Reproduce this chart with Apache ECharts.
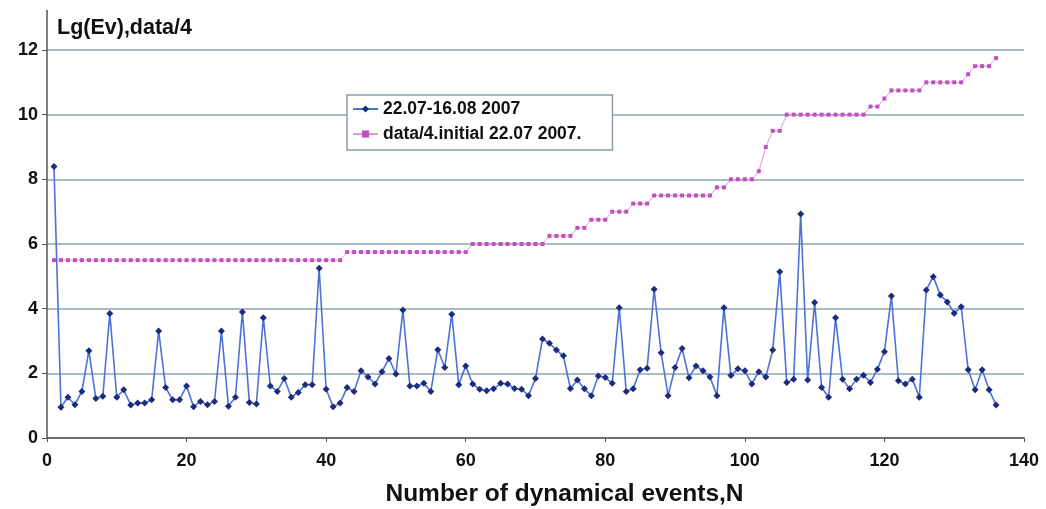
<!DOCTYPE html>
<html>
<head>
<meta charset="utf-8">
<script src="https://cdn.jsdelivr.net/npm/echarts@6/dist/echarts.min.js"></script>
<style>
  html, body { margin: 0; padding: 0; background: #fff; }
  #chart { width: 1046px; height: 509px; }
</style>
</head>
<body>
<div id="chart"></div>
<script>
// Event numbers start at 1; series are listed in event order.
const firstEvent = 1;

const seriesNames = ['22.07-16.08 2007', 'data/4.initial 22.07 2007.'];

// Lg(Ev) for each dynamical event, 22.07-16.08 2007
const lgEv = [
  8.4, 0.95, 1.26, 1.03, 1.44, 2.7, 1.22, 1.29, 3.85, 1.26,
  1.49, 1.02, 1.08, 1.08, 1.18, 3.31, 1.56, 1.18, 1.18, 1.61,
  0.97, 1.13, 1.03, 1.13, 3.31, 0.98, 1.26, 3.9, 1.1, 1.05,
  3.72, 1.61, 1.44, 1.84, 1.26, 1.41, 1.65, 1.65, 5.25, 1.51,
  0.97, 1.08, 1.56, 1.44, 2.08, 1.89, 1.67, 2.05, 2.46, 1.98,
  3.96, 1.61, 1.61, 1.69, 1.44, 2.73, 2.18, 3.83, 1.65, 2.23,
  1.67, 1.51, 1.46, 1.52, 1.69, 1.67, 1.53, 1.51, 1.31, 1.84,
  3.06, 2.93, 2.72, 2.54, 1.53, 1.79, 1.52, 1.31, 1.92, 1.87,
  1.69, 4.03, 1.44, 1.52, 2.11, 2.16, 4.6, 2.64, 1.31, 2.18,
  2.77, 1.86, 2.23, 2.08, 1.89, 1.31, 4.03, 1.93, 2.14, 2.08,
  1.67, 2.05, 1.89, 2.72, 5.14, 1.72, 1.82, 6.93, 1.79, 4.19,
  1.56, 1.26, 3.72, 1.82, 1.52, 1.82, 1.94, 1.72, 2.13, 2.67,
  4.39, 1.77, 1.67, 1.82, 1.26, 4.58, 4.99, 4.42, 4.21, 3.86,
  4.06, 2.11, 1.49, 2.11, 1.49, 1.02
];

// Initial date value divided by 4 for each event
const dataQuarter = [
  5.5, 5.5, 5.5, 5.5, 5.5, 5.5, 5.5, 5.5, 5.5, 5.5,
  5.5, 5.5, 5.5, 5.5, 5.5, 5.5, 5.5, 5.5, 5.5, 5.5,
  5.5, 5.5, 5.5, 5.5, 5.5, 5.5, 5.5, 5.5, 5.5, 5.5,
  5.5, 5.5, 5.5, 5.5, 5.5, 5.5, 5.5, 5.5, 5.5, 5.5,
  5.5, 5.5, 5.75, 5.75, 5.75, 5.75, 5.75, 5.75, 5.75, 5.75,
  5.75, 5.75, 5.75, 5.75, 5.75, 5.75, 5.75, 5.75, 5.75, 5.75,
  6.0, 6.0, 6.0, 6.0, 6.0, 6.0, 6.0, 6.0, 6.0, 6.0,
  6.0, 6.25, 6.25, 6.25, 6.25, 6.5, 6.5, 6.75, 6.75, 6.75,
  7.0, 7.0, 7.0, 7.25, 7.25, 7.25, 7.5, 7.5, 7.5, 7.5,
  7.5, 7.5, 7.5, 7.5, 7.5, 7.75, 7.75, 8.0, 8.0, 8.0,
  8.0, 8.25, 9.0, 9.5, 9.5, 10.0, 10.0, 10.0, 10.0, 10.0,
  10.0, 10.0, 10.0, 10.0, 10.0, 10.0, 10.0, 10.25, 10.25, 10.5,
  10.75, 10.75, 10.75, 10.75, 10.75, 11.0, 11.0, 11.0, 11.0, 11.0,
  11.0, 11.25, 11.5, 11.5, 11.5, 11.75
];

const xTicks = { min: 0, max: 140, interval: 20 };
const yTicks = { min: 0, max: 12, interval: 2 };

const toPairs = vals => vals.map((v, i) => [firstEvent + i, v]);

const FONT = '"Liberation Sans", Arial, sans-serif';
const chart = echarts.init(document.getElementById('chart'), null, { renderer: 'canvas' });

chart.setOption({
  animation: false,
  backgroundColor: '#ffffff',
  grid: { left: 47, right: 22, top: 50, bottom: 71, containLabel: false, outerBoundsMode: 'none' },
  legend: {
    orient: 'vertical',
    left: 347,
    top: 95,
    itemWidth: 25,
    itemHeight: 9,
    itemGap: 7,
    padding: [5, 31, 7, 5],
    backgroundColor: '#ffffff',
    borderColor: '#8c9ca4',
    borderWidth: 1.5,
    borderRadius: 0,
    textStyle: { fontFamily: FONT, fontWeight: 'bold', fontSize: 17.5, color: '#111' },
    data: seriesNames
  },
  xAxis: {
    type: 'value',
    min: xTicks.min,
    max: xTicks.max,
    interval: xTicks.interval,
    name: 'Number of dynamical events,N',
    nameLocation: 'middle',
    nameGap: 44,
    nameTextStyle: {
      fontFamily: FONT, fontWeight: 'bold', fontSize: 24.5, color: '#111',
      padding: [0, 0, 0, 58]
    },
    axisLine: { show: true, lineStyle: { color: '#555', width: 1.5 } },
    axisTick: { show: true, length: 4, lineStyle: { color: '#555' } },
    axisLabel: { margin: 14, fontFamily: FONT, fontWeight: 'bold', fontSize: 18, color: '#111' },
    splitLine: { show: false }
  },
  yAxis: {
    type: 'value',
    min: yTicks.min,
    max: yTicks.max,
    interval: yTicks.interval,
    name: 'Lg(Ev),data/4',
    nameLocation: 'end',
    nameGap: 11,
    nameTextStyle: {
      fontFamily: FONT, fontWeight: 'bold', fontSize: 21.5, color: '#111',
      align: 'left', padding: [0, 0, 0, 10]
    },
    axisLine: { show: true, lineStyle: { color: '#555', width: 1.5 } },
    axisTick: { show: true, length: 5, lineStyle: { color: '#555' } },
    axisLabel: { margin: 9, fontFamily: FONT, fontWeight: 'bold', fontSize: 18, color: '#111' },
    splitLine: { show: true, lineStyle: { color: '#8fa5b2', width: 1.6 } }
  },
  series: [
    {
      name: seriesNames[0],
      type: 'line',
      data: toPairs(lgEv),
      symbol: 'diamond',
      symbolSize: 7,
      itemStyle: { color: '#1c2b7c' },
      lineStyle: { color: '#4b72d6', width: 1.6 },
      z: 3
    },
    {
      name: seriesNames[1],
      type: 'line',
      data: toPairs(dataQuarter),
      symbol: 'rect',
      symbolSize: 4,
      itemStyle: { color: '#c050c0' },
      lineStyle: { color: '#dc98dc', width: 1 },
      z: 2
    }
  ]
});

// The value axis line runs on above the top gridline, up beside the axis title.
const axisTop = chart.convertToPixel({ gridIndex: 0 }, [xTicks.min, yTicks.max]);
chart.setOption({
  graphic: [{
    type: 'line',
    shape: { x1: axisTop[0], y1: axisTop[1], x2: axisTop[0], y2: axisTop[1] - 40 },
    style: { stroke: '#555', lineWidth: 1.5 },
    z: 10
  }]
});
</script>
</body>
</html>
